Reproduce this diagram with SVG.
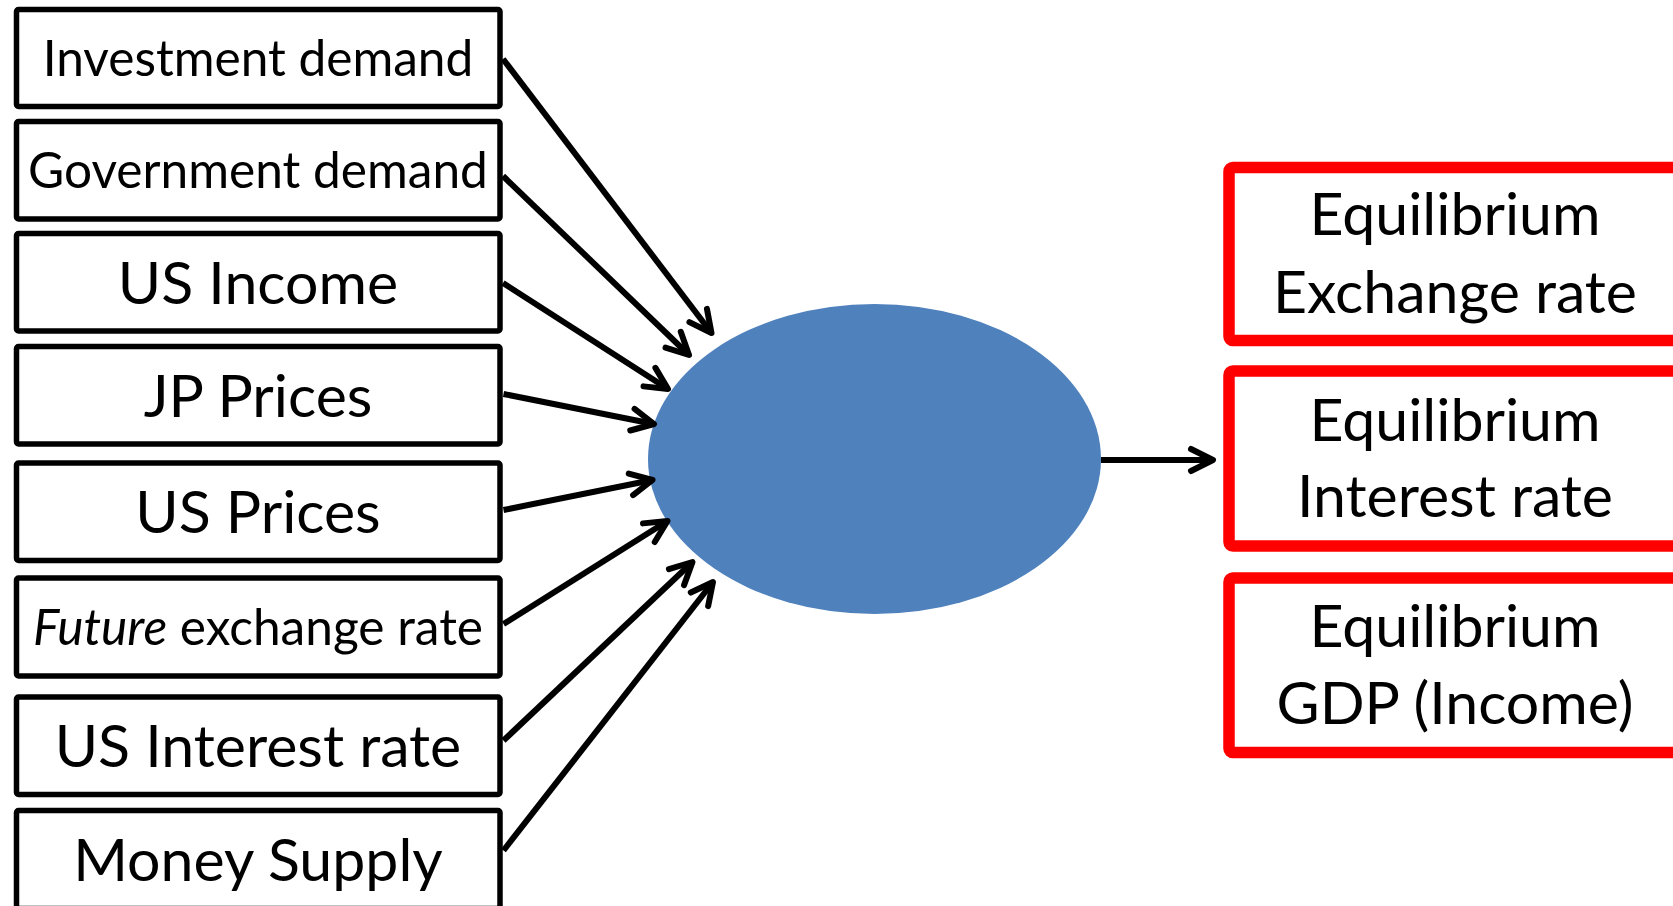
<svg xmlns="http://www.w3.org/2000/svg" width="1673" height="906" viewBox="0 0 1673 906">
  <style>
    .in rect { fill: #fff; stroke: #000; stroke-width: 5.5; }
    .out rect { fill: #fff; stroke: #ff0000; stroke-width: 11.5; }
    text { font-family: Lato, "Liberation Sans", sans-serif; fill: #000; text-anchor: middle; }
    .sm { font-size: 49.6px; }
    .lg { font-size: 59px; }
    .conn line { stroke: #000; stroke-width: 6; marker-end: url(#arrow); }
  </style>
  <defs>
    <marker id="arrow" markerUnits="userSpaceOnUse" markerWidth="40" markerHeight="40" viewBox="-30 -20 40 40" refX="0" refY="0" orient="auto" overflow="visible">
      <path d="M-22,-11 L0,0 L-22,11" fill="none" stroke="#000" stroke-width="6" stroke-linecap="round" stroke-linejoin="round"/>
    </marker>
  </defs>
  <rect width="1673" height="906" fill="#fff"/>

  <!-- input factors -->
  <g id="investment-demand" class="in">
    <rect x="16.5" y="9.5" width="483.5" height="97" rx="2"/>
    <text class="sm" x="258" y="75.5">Investment demand</text>
  </g>
  <g id="government-demand" class="in">
    <rect x="16.5" y="121.5" width="483.5" height="97.5" rx="2"/>
    <text class="sm" x="258" y="188">Government demand</text>
  </g>
  <g id="us-income" class="in">
    <rect x="16.5" y="233.5" width="483.5" height="97.5" rx="2"/>
    <text class="lg" x="258" y="303.5">US Income</text>
  </g>
  <g id="jp-prices" class="in">
    <rect x="16.5" y="346.5" width="483.5" height="97.5" rx="2"/>
    <text class="lg" x="258" y="416.5" font-size="58.4">JP Prices</text>
  </g>
  <g id="us-prices" class="in">
    <rect x="16.5" y="463" width="483.5" height="97.5" rx="2"/>
    <text class="lg" x="258" y="533" font-size="58">US Prices</text>
  </g>
  <g id="future-exchange-rate" class="in">
    <rect x="16.5" y="578" width="483.5" height="98" rx="2"/>
    <text class="sm" x="258" y="644.5"><tspan font-style="italic">Future</tspan> exchange rate</text>
  </g>
  <g id="us-interest-rate" class="in">
    <rect x="16.5" y="697" width="483.5" height="97.5" rx="2"/>
    <text class="lg" x="258" y="767">US Interest rate</text>
  </g>
  <g id="money-supply" class="in">
    <rect x="16.5" y="810.5" width="483.5" height="98" rx="2"/>
    <text class="lg" x="258" y="880.5">Money Supply</text>
  </g>

  <!-- model -->
  <g id="model">
    <ellipse cx="874.5" cy="459" rx="226.5" ry="155" fill="#4f81bd"/>
  </g>

  <!-- equilibrium outcomes -->
  <g id="eq-exchange-rate" class="out">
    <rect x="1229" y="167.5" width="600" height="173" rx="4"/>
    <text class="lg" x="1455" y="235">Equilibrium</text>
    <text class="lg" x="1455" y="312.5">Exchange rate</text>
  </g>
  <g id="eq-interest-rate" class="out">
    <rect x="1229" y="371" width="600" height="175" rx="4"/>
    <text class="lg" x="1455" y="440.5">Equilibrium</text>
    <text class="lg" x="1455" y="517">Interest rate</text>
  </g>
  <g id="eq-gdp" class="out">
    <rect x="1229" y="578" width="600" height="174.5" rx="4"/>
    <text class="lg" x="1455" y="646.5">Equilibrium</text>
    <text class="lg" x="1455" y="723.5">GDP (Income)</text>
  </g>

  <!-- connectors -->
  <g id="connectors" class="conn">
    <line x1="503" y1="59" x2="711.5" y2="333"/>
    <line x1="503" y1="176" x2="689" y2="355"/>
    <line x1="503" y1="283" x2="668" y2="389"/>
    <line x1="503.5" y1="394" x2="654" y2="424"/>
    <line x1="503.5" y1="510" x2="652.5" y2="480"/>
    <line x1="503.5" y1="624" x2="667.5" y2="521"/>
    <line x1="503.5" y1="740.5" x2="692.5" y2="562"/>
    <line x1="503.5" y1="850.5" x2="713" y2="582"/>
    <line x1="1101" y1="460" x2="1213" y2="460"/>
  </g>
</svg>
